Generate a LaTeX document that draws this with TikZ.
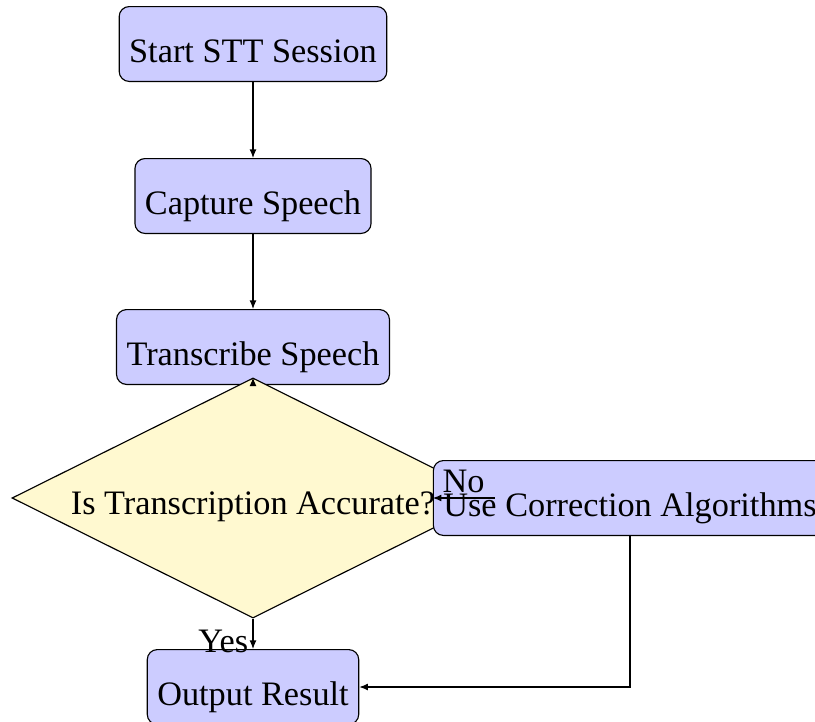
\documentclass[tikz,border=0pt]{standalone}
\usepackage{fontspec}
\setmainfont{Liberation Serif}
\usetikzlibrary{arrows.meta,shapes.geometric}
\definecolor{boxfill}{RGB}{204,204,255}
\definecolor{askfill}{RGB}{255,249,208}
\newcommand{\body}{\fontsize{12}{14.5}\selectfont}
\tikzset{
  stepbox/.style={draw,rounded corners=3.5pt,fill=boxfill,text height=16.3pt,text depth=3.3pt,inner ysep=3.3pt,inner xsep=3.5pt,font=\body},
  askbox/.style={draw,diamond,aspect=2,fill=askfill,inner sep=0pt,text height=14pt,text depth=2.5pt,minimum width=168.7pt,minimum height=84pt,font=\body},
  flow/.style={-{Latex[length=3pt,width=2.4pt]}},
  tag/.style={font=\body,inner sep=1.5pt}
}

\begin{document}
\begin{tikzpicture}[x=0.35pt,y=-0.35pt]
\useasboundingbox (0,0) rectangle (815,722);
% steps of the session
\node[stepbox] (start) at (253,44) {Start STT Session};
\node[stepbox] (capture) at (253,196) {Capture Speech};
\node[stepbox] (transcribe) at (253,347) {Transcribe Speech};
\node[askbox] (check) at (253,498) {Is Transcription Accurate?};
\node[stepbox] (correct) at (630,498) {Use Correction Algorithms};
\node[stepbox] (output) at (253,687) {Output Result};
% connectors
\draw[flow] (start) -- (capture);
\draw[flow] (capture) -- (transcribe);
\draw[flow] (transcribe) -- (check);
\draw[flow] (check) -- node[tag,above] {No} (correct);
\draw[flow] (check) -- node[tag,left,pos=0.75] {Yes} (output);
\draw[flow] (correct) |- (output);
\end{tikzpicture}
\end{document}
